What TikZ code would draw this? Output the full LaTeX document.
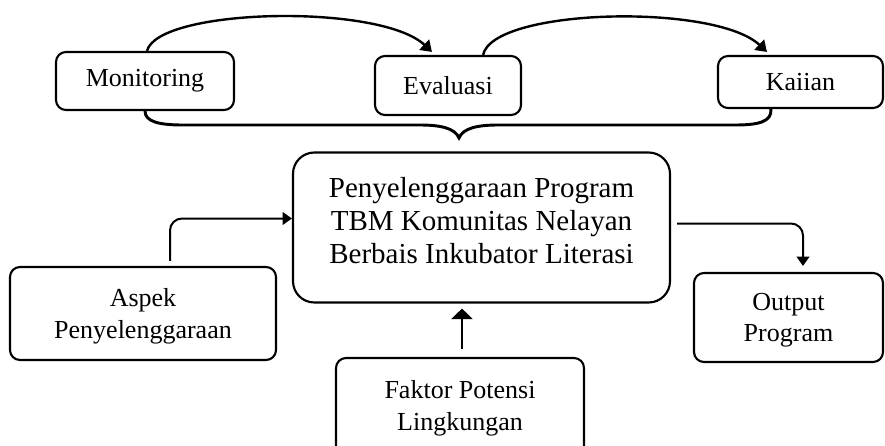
\documentclass[tikz,border=0pt]{standalone}
\usepackage{fontspec}
\setmainfont{Liberation Serif}
\usetikzlibrary{positioning}
\usetikzlibrary{arrows.meta}
\usetikzlibrary{calc}
\tikzset {
  x=0.75pt, y=-0.75pt,
  % rounded text boxes
  box/.style = {draw, line width=1.6pt, rounded corners=7.5pt, align=center, inner sep=0pt,
    font=\fontsize{19.5}{23.5}\selectfont},
  % boxes of two lines, set a little lower
  pair/.style = {box, text depth=0pt},
  % the central program box
  core/.style = {box, rounded corners=16pt, font=\fontsize{21.75}{24.75}\selectfont, text depth=10.5pt},
  % curved links on top
  cycle/.style = {line width=1.8pt, -{Triangle[length=8pt, width=10.5pt]}},
  % plain links
  flow/.style = {line width=1.5pt, rounded corners=9pt, -{Triangle[length=7pt, width=9.5pt]}},
  % the thick input arrow
  push/.style = {line width=2.2pt, -{Triangle[length=8pt, width=16pt]}},
  % grouping brace
  brace/.style = {line width=2.2pt, line cap=round},
}

\begin{document}
\begin{tikzpicture}
      \useasboundingbox (0,0) rectangle (885,446);

      \node[box, minimum width=133.5pt, minimum height=43.5pt] (mon) at (145,81) {Monitoring};
      \node[box, minimum width=109.5pt, minimum height=44.25pt] (eval) at (448,85.5) {Evaluasi};
      \node[box, minimum width=123.75pt, minimum height=39pt] (kaj) at (800.5,82) {Kaiian};

      \node[core, minimum width=282.75pt, minimum height=112.5pt] (prog) at (481.5,227.5)
        {Penyelenggaraan Program\\TBM Komunitas Nelayan\\Berbais Inkubator Literasi};

      \node[pair, minimum width=199.5pt, minimum height=69.75pt] (asp) at (143,313.5) {Aspek\\Penyelenggaraan};
      \node[pair, minimum width=141.75pt, minimum height=66.75pt] (out) at (788.5,317.5) {Output\\Program};
      \node[box, minimum width=186pt, minimum height=78pt, text depth=7pt] (fak) at (460,410) {Faktor Potensi\\Lingkungan};

      \draw [cycle] ($(mon.north)+(2,0)$) .. controls (158,8) and (380,3) .. ($(eval.north west)+(58,-3)$);
      \draw [cycle] ($(eval.north east)+(-39,0)$) .. controls (493,8) and (715,3) .. ($(kaj.north west)+(50,-3)$);

      \coordinate (tip) at (459,138);
      \draw [brace] (mon.south) .. controls (145,122) and (160,125) .. (183,125) -- (420,125)
        .. controls (440,125) and (455,128) .. (tip)
        .. controls (463,128) and (478,125) .. (498,125) -- (735,125)
        .. controls (758,125) and (772,122) .. ($(kaj.south west)+(54,0)$);

      \draw [flow] ($(asp.north)+(27,-5)$) |- ($(prog.west)+(0,-9)$);
      \draw [flow] ($(prog.east)+(6,-4)$) -| ($(out.north)+(14.5,-6)$);
      \draw [push] ($(fak.north)+(2,-8)$) -- ($(fak.north |- prog.south)+(2,5)$);
    \end{tikzpicture}
\end{document}
